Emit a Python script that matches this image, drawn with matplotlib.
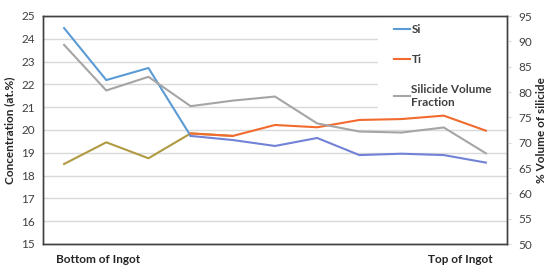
import matplotlib
matplotlib.use("Agg")
import matplotlib.pyplot as plt
from matplotlib.patches import Rectangle
from matplotlib.lines import Line2D

plt.rcParams['font.family'] = ['Lato', 'DejaVu Sans']

positions = list(range(11))
x_labels = ["Bottom of Ingot", "Top of Ingot"]
si = [24.47, 22.19, 22.72, 19.74, 19.56, 19.30, 19.65, 18.90, 18.96, 18.90, 18.57]
ti = [18.51, 19.46, 18.76, 19.85, 19.74, 20.22, 20.12, 20.44, 20.48, 20.63, 19.97]
silicide = [89.3, 80.3, 83.0, 77.2, 78.3, 79.1, 73.8, 72.2, 72.0, 73.0, 67.9]
series_names = ["Si", "Ti", "Silicide Volume\nFraction"]

c_si = "#5B9BD5"
c_si2 = "#7282D6"
c_ti = "#F26B2E"
c_ti2 = "#B09A42"
c_sil = "#A5A5A5"

fig = plt.figure(figsize=(5.5, 2.7), dpi=100)
ax = fig.add_axes([43/550, 1-244/270, 464/550, 228/270])
ax2 = ax.twinx()

ax.set_xlim(-0.5, 10.5)
ax.set_ylim(15, 25)
ax.set_yticks(range(15, 26))
ax2.set_ylim(50, 95)
ax2.set_yticks(range(50, 96, 5))

ax.set_axisbelow(True)
ax.yaxis.grid(True, color="#D9D9D9", linewidth=1.0, zorder=0)
ax.set_xticks([])

# white legend area covering gridlines
ax.add_patch(Rectangle(((378-43)/464, (244-115)/228), (507-378)/464, (115-16)/228,
                       transform=ax.transAxes, facecolor="white", edgecolor="none", zorder=1))

# Si
ax.plot(positions[:4], si[:4], color=c_si, lw=1.5, zorder=3)
ax.plot(positions[3:], si[3:], color=c_si2, lw=1.5, zorder=3)
# Ti
ax.plot(positions[3:], ti[3:], color=c_ti, lw=1.5, zorder=3)
ax.plot(positions[:5], ti[:5], color=c_ti2, lw=1.5, zorder=2.9)
# silicide
ax2.plot(positions, silicide, color=c_sil, lw=1.5)

for a in (ax, ax2):
    for s in a.spines.values():
        s.set_color("#404040")
        s.set_linewidth(1.0)

ax.tick_params(axis='y', length=0, labelsize=8.5, labelcolor="#404040", pad=6)
ax2.tick_params(axis='y', length=3, color="#D9D9D9", labelsize=8.5, labelcolor="#404040", pad=5)

ax.set_ylabel("Concentration (at.%)", fontsize=8.5, fontweight='bold', color="#262626", labelpad=4)
ax2.set_ylabel("% Volume of silicide", fontsize=8.5, fontweight='bold', color="#262626", labelpad=3)

ax.text((56-43)/464, -0.045, x_labels[0], transform=ax.transAxes, ha='left', va='top',
        fontsize=8.5, fontweight='bold', color="#262626")
ax.text((493-43)/464, -0.045, x_labels[1], transform=ax.transAxes, ha='right', va='top',
        fontsize=8.5, fontweight='bold', color="#262626")

# legend
handles = [Line2D([], [], color=c_si, lw=1.5), Line2D([], [], color=c_ti, lw=1.5),
           Line2D([], [], color=c_sil, lw=1.5)]
leg = ax2.legend(handles, series_names, loc='upper left', bbox_to_anchor=((386-43)/464, 1.0),
                 frameon=False, fontsize=8.5, handlelength=1.3, handletextpad=0.15,
                 labelspacing=1.6, borderaxespad=0.3)
for t in leg.get_texts():
    t.set_fontweight('bold')
    t.set_color("#404040")

fig.savefig("out.png", dpi=100)
